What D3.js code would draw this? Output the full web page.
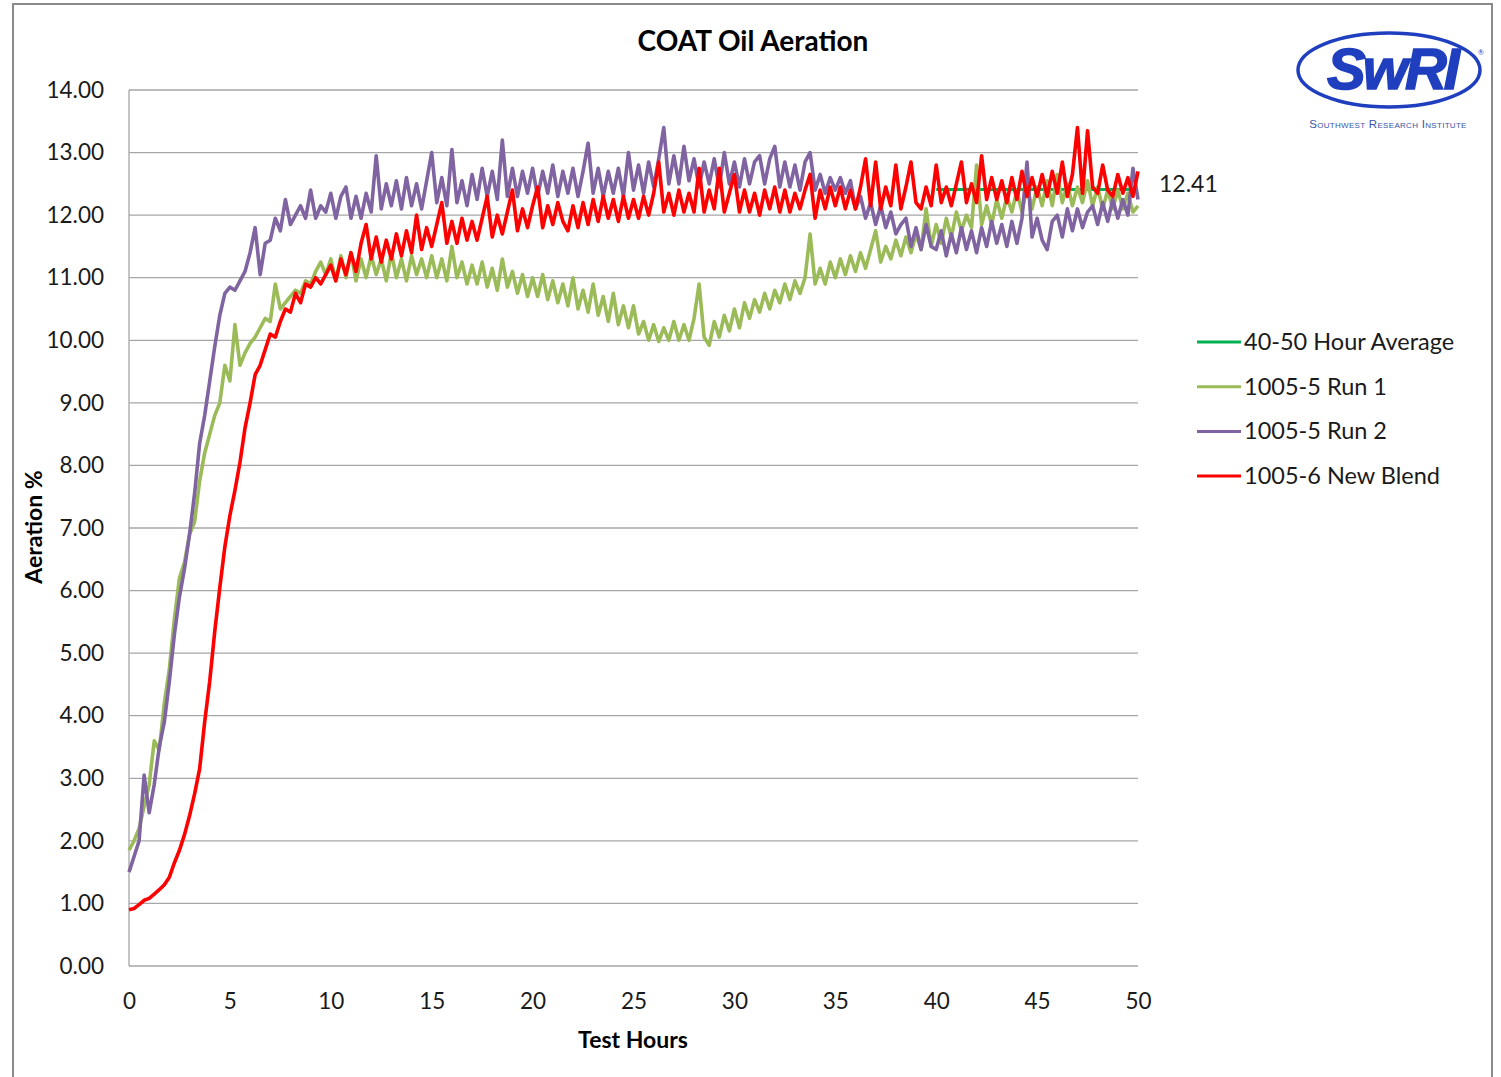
<!DOCTYPE html>
<html>
<head>
<meta charset="utf-8">
<script src="https://cdn.jsdelivr.net/npm/d3@7"></script>
<style>
  body { margin: 0; background: white; }
  text { font-family: Lato, "Open Sans", sans-serif; }
</style>
</head>
<body>
<div id="chart"></div>
<script>
// Hours are sampled every 0.25 h from 0 to 50
const step = 0.25;

// 1005-5 Run 1 (green)
const run1 = [
  1.85, 2.00, 2.20, 2.55, 2.90, 3.60, 3.45, 4.20, 4.75, 5.55, 6.20, 6.45, 6.90, 7.10, 7.75, 8.20, 8.50, 8.80, 9.00, 9.60,
  9.35, 10.25, 9.60, 9.80, 9.95, 10.05, 10.20, 10.35, 10.30, 10.90, 10.50, 10.60, 10.70, 10.80, 10.75, 10.95, 10.90, 11.10, 11.25, 11.05,
  11.30, 10.95, 11.35, 11.00, 11.40, 10.95, 11.30, 11.00, 11.35, 11.05, 11.30, 10.95, 11.40, 11.00, 11.30, 10.95, 11.35, 11.05, 11.30, 11.00,
  11.35, 11.00, 11.30, 10.95, 11.50, 11.00, 11.25, 10.90, 11.20, 10.90, 11.25, 10.85, 11.15, 10.80, 11.30, 10.85, 11.10, 10.75, 11.05, 10.70,
  11.00, 10.70, 11.05, 10.65, 10.95, 10.60, 10.90, 10.55, 11.00, 10.50, 10.80, 10.45, 10.90, 10.40, 10.70, 10.30, 10.75, 10.25, 10.55, 10.20,
  10.55, 10.10, 10.30, 10.00, 10.25, 9.98, 10.20, 10.00, 10.30, 10.00, 10.25, 10.00, 10.35, 10.90, 10.05, 9.92, 10.30, 10.05, 10.40, 10.15,
  10.50, 10.20, 10.60, 10.35, 10.65, 10.45, 10.75, 10.50, 10.80, 10.60, 10.90, 10.65, 10.95, 10.75, 11.00, 11.70, 10.90, 11.15, 10.90, 11.25,
  11.00, 11.30, 11.05, 11.35, 11.10, 11.40, 11.15, 11.45, 11.75, 11.25, 11.50, 11.30, 11.60, 11.35, 11.65, 11.40, 11.70, 11.45, 12.10, 11.50,
  11.85, 11.55, 11.95, 11.65, 12.05, 11.75, 12.00, 11.80, 12.80, 11.85, 12.15, 11.85, 12.25, 11.95, 12.30, 12.05, 12.40, 12.05, 12.45, 12.10,
  12.45, 12.15, 12.55, 12.15, 12.65, 12.20, 12.50, 12.15, 12.45, 12.20, 12.55, 12.15, 12.45, 12.10, 12.40, 12.10, 12.40, 12.10, 12.35, 12.05,
  12.15
];

// 1005-5 Run 2 (purple)
const run2 = [
  1.50, 1.75, 2.00, 3.05, 2.45, 2.90, 3.50, 3.90, 4.55, 5.30, 5.90, 6.35, 6.90, 7.55, 8.35, 8.80, 9.35, 9.90, 10.40, 10.75,
  10.85, 10.80, 10.95, 11.10, 11.40, 11.80, 11.05, 11.55, 11.60, 11.95, 11.75, 12.25, 11.85, 12.00, 12.15, 11.95, 12.40, 11.95, 12.15, 12.05,
  12.35, 11.95, 12.30, 12.45, 11.95, 12.30, 11.95, 12.35, 12.05, 12.95, 12.10, 12.50, 12.15, 12.55, 12.10, 12.60, 12.15, 12.50, 12.10, 12.55,
  13.00, 12.20, 12.60, 12.15, 13.05, 12.20, 12.55, 12.15, 12.65, 12.25, 12.75, 12.30, 12.70, 12.25, 13.20, 12.30, 12.75, 12.30, 12.70, 12.35,
  12.75, 12.30, 12.70, 12.35, 12.80, 12.30, 12.70, 12.35, 12.75, 12.30, 12.70, 13.15, 12.35, 12.75, 12.30, 12.70, 12.35, 12.75, 12.30, 13.00,
  12.40, 12.80, 12.35, 12.85, 12.45, 12.90, 13.40, 12.50, 12.95, 12.50, 13.10, 12.55, 12.90, 12.45, 12.85, 12.50, 12.90, 12.45, 13.00, 12.50,
  12.85, 12.45, 12.90, 12.50, 12.85, 12.95, 12.50, 12.90, 13.10, 12.45, 12.85, 12.45, 12.80, 12.40, 12.85, 13.00, 12.40, 12.65, 12.35, 12.60,
  12.40, 12.60, 12.35, 12.55, 12.10, 12.30, 11.95, 12.20, 11.85, 12.15, 11.80, 12.05, 11.70, 11.85, 11.95, 11.50, 11.80, 11.45, 11.85, 11.50,
  11.45, 11.75, 11.35, 11.70, 11.40, 11.80, 11.45, 11.75, 11.40, 11.80, 11.50, 11.90, 11.55, 11.85, 11.50, 11.90, 11.55, 11.95, 12.85, 11.65,
  11.95, 11.60, 11.45, 11.90, 12.00, 11.65, 12.10, 11.75, 12.10, 11.80, 12.05, 12.15, 11.85, 12.20, 11.90, 12.25, 11.95, 12.25, 12.00, 12.75,
  12.25
];

// 1005-6 New Blend (red)
const newBlend = [
  0.90, 0.92, 0.98, 1.05, 1.08, 1.15, 1.22, 1.30, 1.42, 1.65, 1.85, 2.10, 2.40, 2.75, 3.15, 3.90, 4.55, 5.35, 6.05, 6.70,
  7.20, 7.60, 8.05, 8.60, 9.00, 9.45, 9.60, 9.85, 10.10, 10.05, 10.30, 10.50, 10.45, 10.75, 10.60, 10.90, 10.85, 11.00, 10.90, 11.05,
  11.20, 10.95, 11.30, 11.05, 11.40, 11.10, 11.55, 11.85, 11.30, 11.65, 11.25, 11.60, 11.30, 11.70, 11.35, 11.75, 11.40, 12.00, 11.45, 11.80,
  11.50, 11.85, 12.20, 11.55, 11.90, 11.55, 11.95, 11.60, 11.90, 11.60, 11.95, 12.30, 11.65, 12.00, 11.70, 12.05, 12.40, 11.75, 12.10, 11.80,
  12.15, 12.45, 11.80, 12.15, 11.85, 12.20, 11.90, 11.75, 12.15, 11.80, 12.20, 11.85, 12.25, 11.90, 12.30, 11.95, 12.25, 11.90, 12.30, 11.95,
  12.25, 11.95, 12.30, 12.00, 12.35, 12.85, 12.05, 12.35, 12.00, 12.40, 12.05, 12.35, 12.05, 12.75, 12.05, 12.40, 12.10, 12.75, 12.05, 12.35,
  12.65, 12.05, 12.40, 12.05, 12.35, 12.00, 12.40, 12.10, 12.45, 12.05, 12.40, 12.05, 12.35, 12.10, 12.40, 12.65, 11.95, 12.40, 12.10, 12.45,
  12.15, 12.45, 12.10, 12.40, 12.10, 12.45, 12.90, 12.15, 12.85, 12.10, 12.45, 12.15, 12.80, 12.10, 12.45, 12.85, 12.20, 12.10, 12.45, 12.15,
  12.80, 12.20, 12.45, 12.15, 12.50, 12.85, 12.20, 12.50, 12.20, 12.95, 12.25, 12.60, 12.25, 12.55, 12.20, 12.60, 12.25, 12.70, 12.30, 12.60,
  12.30, 12.65, 12.30, 12.70, 12.35, 12.85, 12.30, 12.65, 13.40, 12.35, 13.35, 12.45, 12.35, 12.80, 12.40, 12.30, 12.65, 12.35, 12.60, 12.30,
  12.70
];

// 40-50 hour average of the new blend
const avgHours = [40, 50];
const avgValue = 12.41;

const xTicks = [0, 5, 10, 15, 20, 25, 30, 35, 40, 45, 50];
const yTicks = [0, 1, 2, 3, 4, 5, 6, 7, 8, 9, 10, 11, 12, 13, 14];

const seriesNames = ["40-50 Hour Average", "1005-5 Run 1", "1005-5 Run 2", "1005-6 New Blend"];
const seriesColors = ["#00B050", "#9BBB59", "#8064A2", "#FF0000"];

let width = 1501, height = 1077;
let margin = { top: 90, bottom: 111, left: 129, right: 363 };

let svg = d3.select("#chart")
    .append("svg")
    .attr("width", width)
    .attr("height", height)
    .style("background", "white");

// outer chart frame
svg.append("path")
    .attr("d", `M13,${height} V4 H1492 V${height}`)
    .attr("fill", "none")
    .attr("stroke", "#8a8a8a")
    .attr("stroke-width", 2);

let x = d3.scaleLinear()
    .domain([0, 50])
    .range([margin.left, width - margin.right]);

let y = d3.scaleLinear()
    .domain([0, 14])
    .range([height - margin.bottom, margin.top]);

// gridlines
svg.append("g")
    .selectAll("line")
    .data(yTicks)
    .enter()
    .append("line")
    .attr("x1", x(0))
    .attr("x2", x(50))
    .attr("y1", d => y(d))
    .attr("y2", d => y(d))
    .attr("stroke", "#a6a6a6")
    .attr("stroke-width", 1.3);

// left axis line
svg.append("line")
    .attr("x1", x(0)).attr("x2", x(0))
    .attr("y1", y(0)).attr("y2", y(14))
    .attr("stroke", "#a6a6a6")
    .attr("stroke-width", 1.3);

// y tick labels
let yAxis = svg.append("g")
    .attr("transform", `translate(${x(0)},0)`)
    .call(d3.axisLeft(y).tickValues(yTicks).tickFormat(d3.format(".2f")).tickSize(0).tickPadding(25));
yAxis.select(".domain").remove();
yAxis.selectAll("text")
    .style("font-family", "Lato, sans-serif")
    .style("font-size", "22.5px")
    .attr("fill", "#1a1a1a");

// x tick labels
let xAxis = svg.append("g")
    .attr("transform", `translate(0,${y(0)})`)
    .call(d3.axisBottom(x).tickValues(xTicks).tickSize(0).tickPadding(27));
xAxis.select(".domain").remove();
xAxis.selectAll("text")
    .style("font-family", "Lato, sans-serif")
    .style("font-size", "22.5px")
    .attr("fill", "#1a1a1a");

// title
svg.append("text")
    .attr("x", 753)
    .attr("y", 51)
    .attr("text-anchor", "middle")
    .style("font-size", "28px")
    .style("font-weight", "bold")
    .text("COAT Oil Aeration");

// axis titles
svg.append("text")
    .attr("x", 633)
    .attr("y", 1048)
    .attr("text-anchor", "middle")
    .style("font-size", "23px")
    .style("font-weight", "bold")
    .text("Test Hours");

svg.append("text")
    .attr("transform", "rotate(-90)")
    .attr("x", -527)
    .attr("y", 42)
    .attr("text-anchor", "middle")
    .style("font-size", "23px")
    .style("font-weight", "bold")
    .text("Aeration %");

// lines
let line = d3.line()
    .x((d, i) => x(i * step))
    .y(d => y(d));

let avgLine = d3.line()
    .x(d => x(d))
    .y(() => y(avgValue));

svg.append("path")
    .datum(avgHours)
    .attr("d", avgLine)
    .attr("fill", "none")
    .attr("stroke", seriesColors[0])
    .attr("stroke-width", 3);

[run1, run2, newBlend].forEach((data, k) => {
    svg.append("path")
        .datum(data)
        .attr("d", line)
        .attr("fill", "none")
        .attr("stroke", seriesColors[k + 1])
        .attr("stroke-width", 3.6)
        .attr("stroke-linejoin", "round");
});

// average label
svg.append("text")
    .attr("x", 1159)
    .attr("y", 192)
    .style("font-size", "23px")
    .attr("fill", "#1a1a1a")
    .text(avgValue.toFixed(2));

// legend
const legend = svg.append("g")
    .attr("transform", "translate(1197, 342)");

seriesNames.forEach((name, i) => {
    legend.append("line")
        .attr("x1", 0).attr("x2", 44)
        .attr("y1", i * 44.7).attr("y2", i * 44.7)
        .attr("stroke", seriesColors[i])
        .attr("stroke-width", 3);
    legend.append("text")
        .attr("x", 47)
        .attr("y", i * 44.7 + 8)
        .style("font-size", "23.5px")
        .attr("fill", "#1a1a1a")
        .text(name);
});

// SwRI logo
const logo = svg.append("g");
logo.append("ellipse")
    .attr("cx", 1389).attr("cy", 70)
    .attr("rx", 91).attr("ry", 37)
    .attr("fill", "none")
    .attr("stroke", "#1f3fbf")
    .attr("stroke-width", 3.5);
logo.append("text")
    .attr("x", 1392).attr("y", 89)
    .attr("text-anchor", "middle")
    .style("font-family", "'Liberation Sans', Arial, sans-serif")
    .style("font-size", "58px")
    .style("font-weight", "bold")
    .style("font-style", "italic")
    .attr("fill", "#1f3fbf")
    .attr("stroke", "#1f3fbf")
    .attr("stroke-width", 1.5)
    .attr("letter-spacing", "-3")
    .text("SwRI");
logo.append("text")
    .attr("x", 1478).attr("y", 55)
    .style("font-size", "7px")
    .attr("fill", "#1f3fbf")
    .text("®");
logo.append("text")
    .attr("x", 1388).attr("y", 128)
    .attr("text-anchor", "middle")
    .style("font-family", "'Liberation Sans', Arial, sans-serif")
    .style("font-size", "11.5px")
    .style("font-variant", "small-caps")
    .attr("letter-spacing", "0.3")
    .attr("fill", "#3a55a8")
    .text("Southwest Research Institute");
</script>
</body>
</html>
